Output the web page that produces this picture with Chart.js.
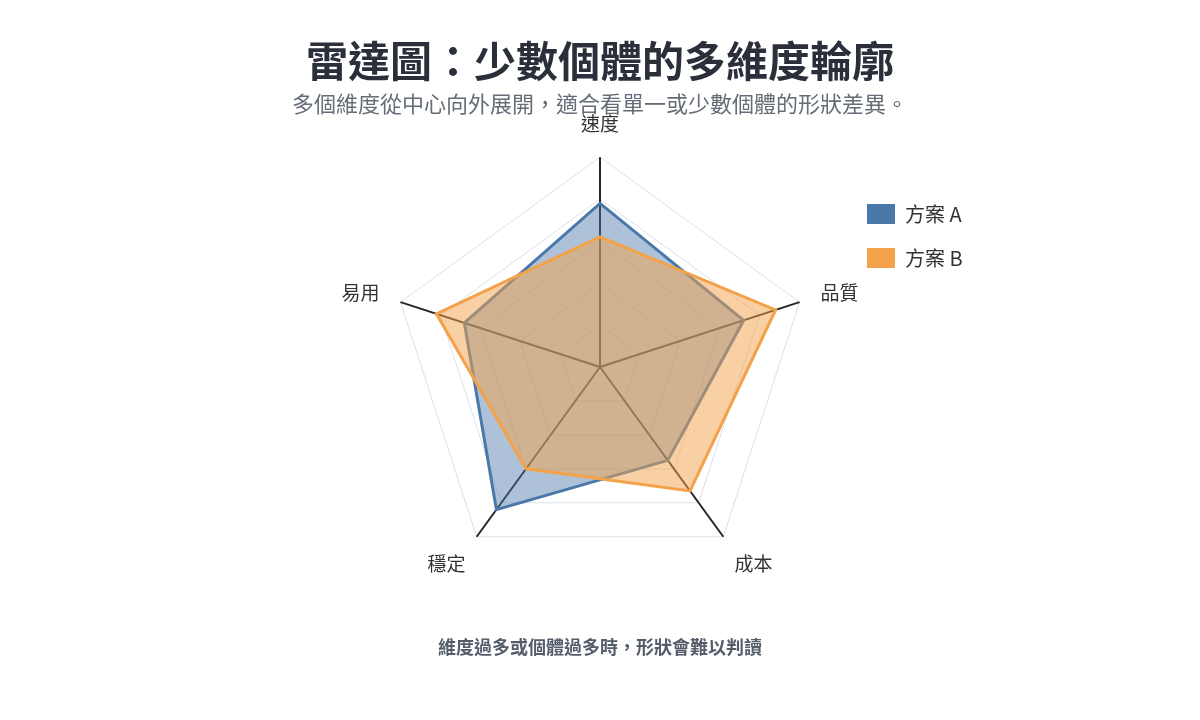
<!DOCTYPE html>
<html>
<head>
<meta charset="utf-8">
<script src="https://cdn.jsdelivr.net/npm/chart.js@4.4.1/dist/chart.umd.min.js"></script>
<style>
  html, body { margin: 0; padding: 0; background: #ffffff; }
  #wrap { width: 1200px; height: 720px; position: relative; }
</style>
</head>
<body>
<div id="wrap"><canvas id="c"></canvas></div>
<script>
const categories = ['速度', '品質', '成本', '穩定', '易用'];
const seriesNames = ['方案 A', '方案 B'];
const valuesA = [78, 72, 55, 84, 68];
const valuesB = [62, 88, 73, 60, 82];
const scaleMin = 0;
const scaleMax = 100;
const scaleStep = 20;
const titleText = '雷達圖：少數個體的多維度輪廓';
const subtitleText = '多個維度從中心向外展開，適合看單一或少數個體的形狀差異。';
const footerText = '維度過多或個體過多時，形狀會難以判讀';

const FONT = "'Noto Sans CJK TC', 'Noto Sans', sans-serif";

const footerPlugin = {
  id: 'footerNote',
  afterDraw(chart) {
    const ctx = chart.ctx;
    ctx.save();
    ctx.font = 'bold 18px ' + FONT;
    ctx.fillStyle = '#555d6b';
    ctx.textAlign = 'center';
    ctx.textBaseline = 'middle';
    ctx.fillText(footerText, chart.width / 2, 647);
    ctx.restore();
  }
};

// move the legend (drawn over the chart area) to the right-hand side
const legendPlacePlugin = {
  id: 'legendPlace',
  afterLayout(chart) {
    const lg = chart.legend;
    if (!lg) return;
    const dx = 843 - lg.left;
    const dy = 180 - lg.top;
    lg.left += dx; lg.right += dx;
    lg.top += dy; lg.bottom += dy;
  }
};

new Chart(document.getElementById('c'), {
  type: 'radar',
  data: {
    labels: categories,
    datasets: [
      {
        label: seriesNames[0],
        data: valuesA,
        order: 1,
        borderColor: '#4a78a9',
        backgroundColor: 'rgba(74,120,169,0.45)',
        borderWidth: 3,
        pointRadius: 0,
        pointHoverRadius: 0
      },
      {
        label: seriesNames[1],
        data: valuesB,
        order: 0,
        borderColor: '#f4a24a',
        backgroundColor: 'rgba(244,162,74,0.5)',
        borderWidth: 3,
        pointRadius: 0,
        pointHoverRadius: 0
      }
    ]
  },
  options: {
    responsive: true,
    maintainAspectRatio: false,
    animation: false,
    layout: { padding: { left: 0, right: 0, top: 0, bottom: 120 } },
    plugins: {
      title: {
        display: true,
        text: titleText,
        color: '#2a2f3a',
        font: { family: FONT, size: 42, weight: 'bold' },
        padding: { top: 36, bottom: 4 }
      },
      subtitle: {
        display: true,
        text: subtitleText,
        color: '#666d78',
        font: { family: FONT, size: 22 },
        padding: { top: 0, bottom: -26.8 }
      },
      legend: {
        position: 'chartArea',
        align: 'start',
        labels: {
          boxWidth: 28,
          boxHeight: 20,
          padding: 24,
          color: '#333333',
          font: { family: FONT, size: 20 },
          sort: (a, b) => a.datasetIndex - b.datasetIndex,
          generateLabels(chart) {
            const items = Chart.defaults.plugins.legend.labels.generateLabels(chart);
            items.forEach(it => { it.fillStyle = it.strokeStyle; it.lineWidth = 0; });
            return items;
          }
        }
      },
      tooltip: { enabled: false }
    },
    scales: {
      r: {
        min: scaleMin,
        max: scaleMax,
        ticks: { stepSize: scaleStep, display: false },
        grid: { color: '#dbe1ea', lineWidth: 1 },
        angleLines: { color: '#262626', lineWidth: 2 },
        pointLabels: {
          color: '#333333',
          padding: (ctx) => (ctx.index === 2 || ctx.index === 3) ? 19 : 22,
          font: (ctx) => ({
            family: FONT,
            size: 19,
            lineHeight: (ctx.index === 1 || ctx.index === 4) ? 0.25 : 1.2
          })
        }
      }
    }
  },
  plugins: [footerPlugin, legendPlacePlugin]
});
</script>
</body>
</html>
